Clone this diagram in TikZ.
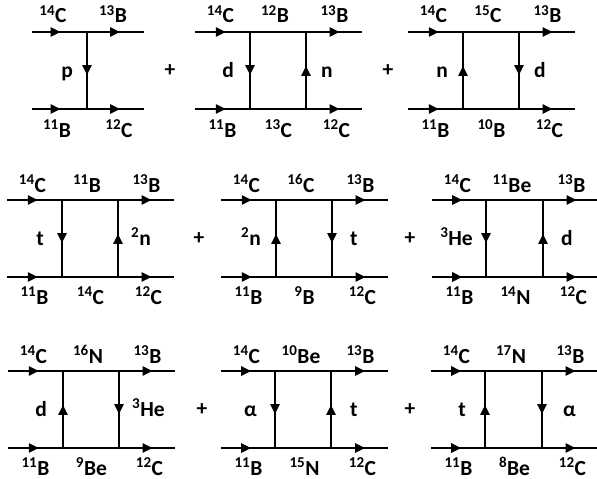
\documentclass[tikz,border=0pt]{standalone}
\usepackage{fontspec}
\setmainfont{Carlito}
\usetikzlibrary{arrows.meta,decorations.markings}
\newcommand{\iso}[2]{\textsuperscript{#1}#2}

\begin{document}
\begin{tikzpicture}[
  x=1pt, y=-1pt,
  ln/.style={line width=2.4pt},
  arr/.style={ln, postaction={decorate}, decoration={markings,
      mark=at position #1 with {\arrow{Triangle[length=10pt,width=9pt]}}}},
  lbl/.style={font=\fontsize{21.5}{23}\selectfont\bfseries, inner sep=0pt},
  toplbl/.style={lbl, anchor=base},
  botlbl/.style={lbl, anchor=base},
  leftlbl/.style={lbl, anchor=base east},
  rightlbl/.style={lbl, anchor=base west},
  plus/.style={lbl}
]
\useasboundingbox (0,0) rectangle (597,479);

% row 1: single exchange
\begin{scope}[shift={(32,32)}]
  \coordinate (a-tl) at (0,0);  \coordinate (a-t1) at (55,0);  \coordinate (a-tr) at (112,0);
  \coordinate (a-bl) at (0,77); \coordinate (a-b1) at (55,77); \coordinate (a-br) at (112,77);
  \draw[arr=0.52] (a-tl) -- (a-t1); \draw[arr=0.58] (a-t1) -- (a-tr);
  \draw[arr=0.52] (a-bl) -- (a-b1); \draw[arr=0.58] (a-b1) -- (a-br);
  \draw[arr=0.56] (a-t1) -- (a-b1);
  \node[toplbl] (a-n1) at (21,-9) {\iso{14}{C}};
  \node[toplbl] (a-n2) at (81,-9) {\iso{13}{B}};
  \node[botlbl] (a-n3) at (25,105) {\iso{11}{B}};
  \node[botlbl] (a-n4) at (87,105) {\iso{12}{C}};
  \node[leftlbl] (a-v1) at (41,45.5) {p};
\end{scope}
\node[plus] (p1) at (170,70.5) {+};

\begin{scope}[shift={(195,32)}]
  \coordinate (b-tl) at (0,0);  \coordinate (b-t1) at (55,0);  \coordinate (b-t2) at (111,0);  \coordinate (b-tr) at (167,0);
  \coordinate (b-bl) at (0,77); \coordinate (b-b1) at (55,77); \coordinate (b-b2) at (111,77); \coordinate (b-br) at (167,77);
  \draw[arr=0.56] (b-tl) -- (b-t1); \draw[ln] (b-t1) -- (b-t2); \draw[arr=0.6] (b-t2) -- (b-tr);
  \draw[arr=0.56] (b-bl) -- (b-b1); \draw[ln] (b-b1) -- (b-b2); \draw[arr=0.6] (b-b2) -- (b-br);
  \draw[arr=0.56] (b-t1) -- (b-b1);
  \draw[arr=0.56] (b-b2) -- (b-t2);
  \node[toplbl] (b-n1) at (25.5,-9) {\iso{14}{C}};
  \node[toplbl] (b-n2) at (80,-9) {\iso{12}{B}};
  \node[toplbl] (b-n3) at (139.5,-9) {\iso{13}{B}};
  \node[botlbl] (b-n4) at (27.5,105) {\iso{11}{B}};
  \node[botlbl] (b-n5) at (83.5,105) {\iso{13}{C}};
  \node[botlbl] (b-n6) at (141.5,105) {\iso{12}{C}};
  \node[leftlbl] (b-v1) at (39,45.5) {d};
  \node[rightlbl] (b-v2) at (126,45.5) {n};
\end{scope}
\node[plus] (p2) at (388,70.5) {+};

\begin{scope}[shift={(408,32)}]
  \coordinate (c-tl) at (0,0);  \coordinate (c-t1) at (55,0);  \coordinate (c-t2) at (111,0);  \coordinate (c-tr) at (167,0);
  \coordinate (c-bl) at (0,77); \coordinate (c-b1) at (55,77); \coordinate (c-b2) at (111,77); \coordinate (c-br) at (167,77);
  \draw[arr=0.56] (c-tl) -- (c-t1); \draw[ln] (c-t1) -- (c-t2); \draw[arr=0.6] (c-t2) -- (c-tr);
  \draw[arr=0.56] (c-bl) -- (c-b1); \draw[ln] (c-b1) -- (c-b2); \draw[arr=0.6] (c-b2) -- (c-br);
  \draw[arr=0.56] (c-b1) -- (c-t1);
  \draw[arr=0.56] (c-t2) -- (c-b2);
  \node[toplbl] (c-n1) at (25.5,-9) {\iso{14}{C}};
  \node[toplbl] (c-n2) at (80,-9) {\iso{15}{C}};
  \node[toplbl] (c-n3) at (139.5,-9) {\iso{13}{B}};
  \node[botlbl] (c-n4) at (27.5,105) {\iso{11}{B}};
  \node[botlbl] (c-n5) at (83.5,105) {\iso{10}{B}};
  \node[botlbl] (c-n6) at (141.5,105) {\iso{12}{C}};
  \node[leftlbl] (c-v1) at (40,45.5) {n};
  \node[rightlbl] (c-v2) at (126,45.5) {d};
\end{scope}

% row 2
\begin{scope}[shift={(7,200)}]
  \coordinate (d-tl) at (0,0);  \coordinate (d-t1) at (55,0);  \coordinate (d-t2) at (111,0);  \coordinate (d-tr) at (167,0);
  \coordinate (d-bl) at (0,77); \coordinate (d-b1) at (55,77); \coordinate (d-b2) at (111,77); \coordinate (d-br) at (167,77);
  \draw[arr=0.56] (d-tl) -- (d-t1); \draw[ln] (d-t1) -- (d-t2); \draw[arr=0.6] (d-t2) -- (d-tr);
  \draw[arr=0.56] (d-bl) -- (d-b1); \draw[ln] (d-b1) -- (d-b2); \draw[arr=0.6] (d-b2) -- (d-br);
  \draw[arr=0.56] (d-t1) -- (d-b1);
  \draw[arr=0.56] (d-b2) -- (d-t2);
  \node[toplbl] (d-n1) at (25.5,-8) {\iso{14}{C}};
  \node[toplbl] (d-n2) at (80,-8) {\iso{11}{B}};
  \node[toplbl] (d-n3) at (139.5,-8) {\iso{13}{B}};
  \node[botlbl] (d-n4) at (27.5,104) {\iso{11}{B}};
  \node[botlbl] (d-n5) at (83.5,104) {\iso{14}{C}};
  \node[botlbl] (d-n6) at (141.5,104) {\iso{12}{C}};
  \node[leftlbl] (d-v1) at (37,45.5) {t};
  \node[rightlbl] (d-v2) at (124,45.5) {\iso{2}{n}};
\end{scope}
\node[plus] (p3) at (199,239) {+};

\begin{scope}[shift={(221,200)}]
  \coordinate (e-tl) at (0,0);  \coordinate (e-t1) at (55,0);  \coordinate (e-t2) at (111,0);  \coordinate (e-tr) at (167,0);
  \coordinate (e-bl) at (0,77); \coordinate (e-b1) at (55,77); \coordinate (e-b2) at (111,77); \coordinate (e-br) at (167,77);
  \draw[arr=0.56] (e-tl) -- (e-t1); \draw[ln] (e-t1) -- (e-t2); \draw[arr=0.6] (e-t2) -- (e-tr);
  \draw[arr=0.56] (e-bl) -- (e-b1); \draw[ln] (e-b1) -- (e-b2); \draw[arr=0.6] (e-b2) -- (e-br);
  \draw[arr=0.56] (e-b1) -- (e-t1);
  \draw[arr=0.56] (e-t2) -- (e-b2);
  \node[toplbl] (e-n1) at (25.5,-8) {\iso{14}{C}};
  \node[toplbl] (e-n2) at (80,-8) {\iso{16}{C}};
  \node[toplbl] (e-n3) at (139.5,-8) {\iso{13}{B}};
  \node[botlbl] (e-n4) at (27.5,104) {\iso{11}{B}};
  \node[botlbl] (e-n5) at (83.5,104) {\iso{9}{B}};
  \node[botlbl] (e-n6) at (141.5,104) {\iso{12}{C}};
  \node[leftlbl] (e-v1) at (40,45.5) {\iso{2}{n}};
  \node[rightlbl] (e-v2) at (129,45.5) {t};
\end{scope}
\node[plus] (p4) at (410,239) {+};

\begin{scope}[shift={(432,200)}]
  \coordinate (f-tl) at (0,0);  \coordinate (f-t1) at (54,0);  \coordinate (f-t2) at (111,0);  \coordinate (f-tr) at (167,0);
  \coordinate (f-bl) at (0,77); \coordinate (f-b1) at (54,77); \coordinate (f-b2) at (111,77); \coordinate (f-br) at (167,77);
  \draw[arr=0.56] (f-tl) -- (f-t1); \draw[ln] (f-t1) -- (f-t2); \draw[arr=0.6] (f-t2) -- (f-tr);
  \draw[arr=0.56] (f-bl) -- (f-b1); \draw[ln] (f-b1) -- (f-b2); \draw[arr=0.6] (f-b2) -- (f-br);
  \draw[arr=0.56] (f-t1) -- (f-b1);
  \draw[arr=0.56] (f-b2) -- (f-t2);
  \node[toplbl] (f-n1) at (25.5,-8) {\iso{14}{C}};
  \node[toplbl] (f-n2) at (80,-8) {\iso{11}{Be}};
  \node[toplbl] (f-n3) at (139.5,-8) {\iso{13}{B}};
  \node[botlbl] (f-n4) at (27.5,104) {\iso{11}{B}};
  \node[botlbl] (f-n5) at (83.5,104) {\iso{14}{N}};
  \node[botlbl] (f-n6) at (141.5,104) {\iso{12}{C}};
  \node[leftlbl] (f-v1) at (41,45.5) {\iso{3}{He}};
  \node[rightlbl] (f-v2) at (129,45.5) {d};
\end{scope}

% row 3
\begin{scope}[shift={(8,371)}]
  \coordinate (g-tl) at (0,0);  \coordinate (g-t1) at (55,0);  \coordinate (g-t2) at (111,0);  \coordinate (g-tr) at (167,0);
  \coordinate (g-bl) at (0,77); \coordinate (g-b1) at (55,77); \coordinate (g-b2) at (111,77); \coordinate (g-br) at (167,77);
  \draw[arr=0.56] (g-tl) -- (g-t1); \draw[ln] (g-t1) -- (g-t2); \draw[arr=0.6] (g-t2) -- (g-tr);
  \draw[arr=0.56] (g-bl) -- (g-b1); \draw[ln] (g-b1) -- (g-b2); \draw[arr=0.6] (g-b2) -- (g-br);
  \draw[arr=0.56] (g-b1) -- (g-t1);
  \draw[arr=0.56] (g-t2) -- (g-b2);
  \node[toplbl] (g-n1) at (25.5,-8) {\iso{14}{C}};
  \node[toplbl] (g-n2) at (80,-8) {\iso{16}{N}};
  \node[toplbl] (g-n3) at (139.5,-8) {\iso{13}{B}};
  \node[botlbl] (g-n4) at (27.5,104) {\iso{11}{B}};
  \node[botlbl] (g-n5) at (83.5,104) {\iso{9}{Be}};
  \node[botlbl] (g-n6) at (141.5,104) {\iso{12}{C}};
  \node[leftlbl] (g-v1) at (39,45.5) {d};
  \node[rightlbl] (g-v2) at (124,45.5) {\iso{3}{He}};
\end{scope}
\node[plus] (p5) at (202,409.5) {+};

\begin{scope}[shift={(221,371)}]
  \coordinate (h-tl) at (0,0);  \coordinate (h-t1) at (54,0);  \coordinate (h-t2) at (110,0);  \coordinate (h-tr) at (167,0);
  \coordinate (h-bl) at (0,77); \coordinate (h-b1) at (54,77); \coordinate (h-b2) at (110,77); \coordinate (h-br) at (167,77);
  \draw[arr=0.56] (h-tl) -- (h-t1); \draw[ln] (h-t1) -- (h-t2); \draw[arr=0.6] (h-t2) -- (h-tr);
  \draw[arr=0.56] (h-bl) -- (h-b1); \draw[ln] (h-b1) -- (h-b2); \draw[arr=0.6] (h-b2) -- (h-br);
  \draw[arr=0.56] (h-t1) -- (h-b1);
  \draw[arr=0.56] (h-b2) -- (h-t2);
  \node[toplbl] (h-n1) at (25.5,-8) {\iso{14}{C}};
  \node[toplbl] (h-n2) at (80,-8) {\iso{10}{Be}};
  \node[toplbl] (h-n3) at (139.5,-8) {\iso{13}{B}};
  \node[botlbl] (h-n4) at (27.5,104) {\iso{11}{B}};
  \node[botlbl] (h-n5) at (83.5,104) {\iso{15}{N}};
  \node[botlbl] (h-n6) at (141.5,104) {\iso{12}{C}};
  \node[leftlbl] (h-v1) at (36,45.5) {α};
  \node[rightlbl] (h-v2) at (129,45.5) {t};
\end{scope}
\node[plus] (p6) at (410,409.5) {+};

\begin{scope}[shift={(431,371)}]
  \coordinate (k-tl) at (0,0);  \coordinate (k-t1) at (54,0);  \coordinate (k-t2) at (111,0);  \coordinate (k-tr) at (167,0);
  \coordinate (k-bl) at (0,77); \coordinate (k-b1) at (54,77); \coordinate (k-b2) at (111,77); \coordinate (k-br) at (167,77);
  \draw[arr=0.56] (k-tl) -- (k-t1); \draw[ln] (k-t1) -- (k-t2); \draw[arr=0.6] (k-t2) -- (k-tr);
  \draw[arr=0.56] (k-bl) -- (k-b1); \draw[ln] (k-b1) -- (k-b2); \draw[arr=0.6] (k-b2) -- (k-br);
  \draw[arr=0.56] (k-b1) -- (k-t1);
  \draw[arr=0.56] (k-t2) -- (k-b2);
  \node[toplbl] (k-n1) at (25.5,-8) {\iso{14}{C}};
  \node[toplbl] (k-n2) at (80,-8) {\iso{17}{N}};
  \node[toplbl] (k-n3) at (139.5,-8) {\iso{13}{B}};
  \node[botlbl] (k-n4) at (27.5,104) {\iso{11}{B}};
  \node[botlbl] (k-n5) at (83.5,104) {\iso{8}{Be}};
  \node[botlbl] (k-n6) at (141.5,104) {\iso{12}{C}};
  \node[leftlbl] (k-v1) at (35,45.5) {t};
  \node[rightlbl] (k-v2) at (132,45.5) {α};
\end{scope}
\end{tikzpicture}
\end{document}
